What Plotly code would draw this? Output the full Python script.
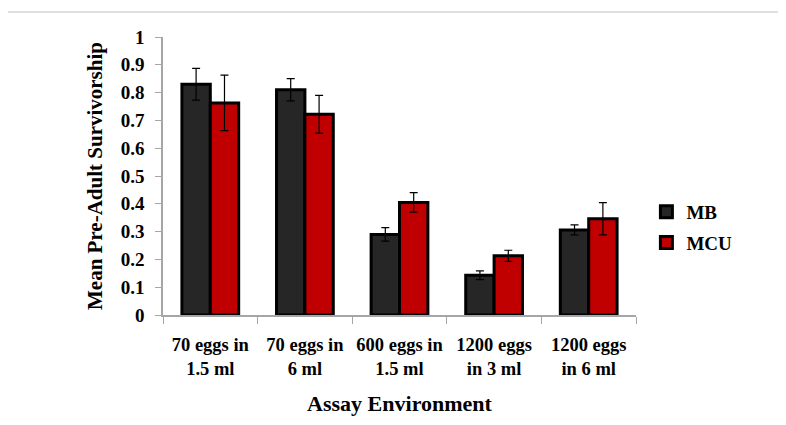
import plotly.graph_objects as go

categories = ["70 eggs in<br>1.5 ml", "70 eggs in<br>6 ml", "600 eggs in<br>1.5 ml",
              "1200 eggs<br>in 3 ml", "1200 eggs<br>in 6 ml"]
mb_values = [0.83, 0.81, 0.29, 0.143, 0.306]
mb_errors = [0.057, 0.040, 0.024, 0.016, 0.018]
mcu_values = [0.763, 0.722, 0.405, 0.213, 0.346]
mcu_errors = [0.10, 0.068, 0.035, 0.020, 0.058]

FONT = "Liberation Serif"

fig = go.Figure()
fig.add_trace(go.Bar(
    name="MB", x=categories, y=mb_values, legendgroup="mb",
    marker=dict(color="#262626", line=dict(color="black", width=3)),
    error_y=dict(type="data", array=mb_errors, color="black", thickness=1.2, width=4),
))
fig.add_trace(go.Bar(
    name="MCU", x=categories, y=mcu_values, legendgroup="mcu",
    marker=dict(color="#C00000", line=dict(color="black", width=3)),
    error_y=dict(type="data", array=mcu_errors, color="black", thickness=1.2, width=4),
))

fig.update_layout(
    width=786, height=425,
    margin=dict(l=155, r=158, t=29, b=118),
    paper_bgcolor="white", plot_bgcolor="white",
    barmode="group", bargap=0.4, bargroupgap=0,
    font=dict(family=FONT, color="black", size=18),
    showlegend=True,
    legend=dict(x=1.022, y=0.315, xanchor="left", yanchor="middle",
                font=dict(family=FONT, size=19, color="black", weight="bold"),
                tracegroupgap=3, traceorder="grouped"),
    xaxis=dict(
        showline=True, linecolor="#A6A6A6", linewidth=1.5,
        ticks="outside", tickson="boundaries", ticklen=7, tickcolor="#A6A6A6",
        tickfont=dict(family=FONT, size=18.5, color="black", weight="bold"),
        tickangle=0, automargin=False,
        ticklabelstandoff=12,
        title=dict(text="Assay Environment",
                   font=dict(family=FONT, size=22, weight="bold"), standoff=18),
    ),
    yaxis=dict(
        range=[0, 1], dtick=0.1, showgrid=False, zeroline=False,
        showline=True, linecolor="#A6A6A6", linewidth=1.5,
        ticks="outside", ticklen=6, tickcolor="#A6A6A6", automargin=False,
        tickfont=dict(family=FONT, size=19, color="black", weight="bold"),
        ticklabelstandoff=7,
        title=dict(text="Mean Pre-Adult Survivorship",
                   font=dict(family=FONT, size=21, weight="bold"), standoff=12),
    ),
)

# outer chart frame
fig.add_shape(type="rect", xref="paper", yref="paper",
              x0=(5 - 163) / 473, x1=(800 - 163) / 473,
              y0=(315 - 440) / 278, y1=(315 - 12) / 278,
              line=dict(color="#BFBFBF", width=1), layer="below")

fig.write_html("out.html")
